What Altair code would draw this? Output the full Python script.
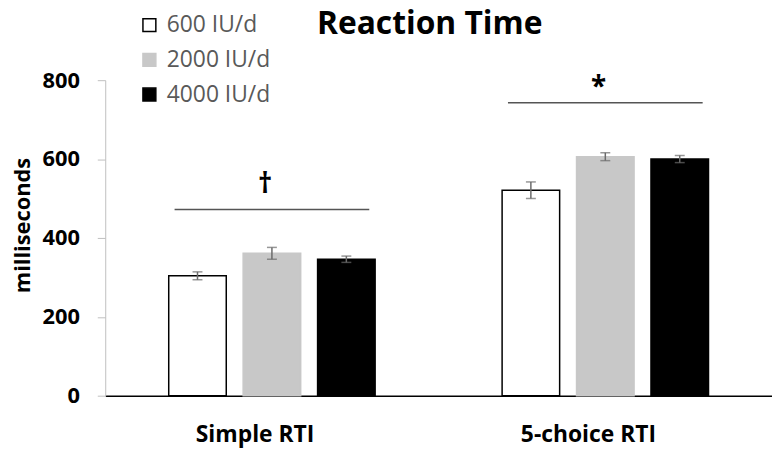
import altair as alt
import pandas as pd

title_text = ["Reaction Time"]
categories = ["Simple RTI", "5-choice RTI"]
doses = ["600 IU/d", "2000 IU/d", "4000 IU/d"]
means_simple = [304, 361, 346]
sem_simple = [10, 15, 8]
means_choice = [521, 606, 600]
sem_choice = [21, 10, 9]
bracket_y = [472, 743]
sig_symbols = ["†", "*"]
sig_y = [534, 780]
y_ticks = [0, 200, 400, 600, 800]

fills = ["white", "#c8c8c8", "black"]
strokes = ["black", "#c8c8c8", "black"]

rows = []
for cat, means, sems in [(categories[0], means_simple, sem_simple), (categories[1], means_choice, sem_choice)]:
    for d, m, s in zip(doses, means, sems):
        rows.append({"cat": cat, "dose": d, "mean": m, "lo": m - s, "hi": m + s})
df = pd.DataFrame(rows)
br = pd.DataFrame({"cat": categories, "by": bracket_y, "sym": sig_symbols, "sy": sig_y})
tdf = pd.DataFrame({"t": title_text})

FONT = "Open Sans"

xscale = alt.Scale(domain=categories, paddingInner=0, paddingOuter=0)
x_enc = alt.X("cat:N", sort=categories, title=None, scale=xscale)
xo_enc = alt.XOffset("dose:N", sort=doses,
                     scale=alt.Scale(domain=doses, paddingInner=0.227, paddingOuter=0.853))
yscale = alt.Scale(domain=[0, 800], nice=False)
yaxis = alt.Axis(values=y_ticks, title="milliseconds")

def Y(field):
    return alt.Y(field, type="quantitative", scale=yscale, axis=yaxis, title="milliseconds")

leg = alt.Legend(title=None, orient="none", legendX=33, legendY=-67, symbolType="square",
                 symbolSize=169, symbolStrokeWidth=1.5, labelFontSize=23, labelColor="#595959",
                 labelFont=FONT, rowPadding=11, labelOffset=6, padding=0)

bars = alt.Chart(df).mark_bar(strokeWidth=1.5).encode(
    x=x_enc, xOffset=xo_enc, y=Y("mean"),
    fill=alt.Fill("dose:N", sort=doses, scale=alt.Scale(domain=doses, range=fills), legend=leg),
    stroke=alt.Stroke("dose:N", sort=doses, scale=alt.Scale(domain=doses, range=strokes), legend=leg),
)

ecol = "#6b6b6b"
err = alt.Chart(df).mark_rule(color=ecol, strokeWidth=1.5).encode(
    x=x_enc, xOffset=xo_enc, y=Y("lo"), y2="hi")
cap_lo = alt.Chart(df).mark_tick(color=ecol, thickness=1.5, size=10).encode(
    x=x_enc, xOffset=xo_enc, y=Y("lo"))
cap_hi = alt.Chart(df).mark_tick(color=ecol, thickness=1.5, size=10).encode(
    x=x_enc, xOffset=xo_enc, y=Y("hi"))

brackets = alt.Chart(br).mark_rule(color="#555555", strokeWidth=1.5).encode(
    x=alt.X("cat:N", sort=categories, title=None, bandPosition=0.208, scale=xscale),
    x2=alt.X2("cat:N", bandPosition=0.792),
    y=Y("by"),
)
sig = alt.Chart(br).mark_text(font=FONT, fontSize=28, fontWeight="bold", baseline="middle", color="black").encode(
    x=alt.X("cat:N", sort=categories, title=None, bandPosition=0.48, scale=xscale),
    y=Y("sy"), text="sym:N",
)

title = alt.Chart(tdf).mark_text(font=FONT, fontSize=32, fontWeight="bold", color="black",
                                 align="center", baseline="alphabetic").encode(
    text="t:N", x=alt.value(327), y=alt.value(-47))

chart = alt.layer(bars, err, cap_lo, cap_hi, brackets, sig, title).properties(
    width=672, height=318,
    autosize=alt.AutoSizeParams(type="none"),
    padding={"left": 98, "top": 71, "right": 0, "bottom": 55},
).configure_view(stroke=None).configure_axisX(
    domainColor="black", domainWidth=1.5, ticks=False, tickSize=0, labelAngle=0,
    labelFont=FONT, labelFontSize=23, labelFontWeight="bold", labelColor="black",
    labelPadding=28, labelOffset=-17, grid=False,
).configure_axisY(
    domainColor="#bfbfbf", tickColor="#bfbfbf", tickSize=8, grid=False,
    labelFont=FONT, labelFontSize=22, labelFontWeight="bold", labelColor="black", labelPadding=18,
    titleFont=FONT, titleFontSize=22, titleFontWeight="bold", titleColor="black",
    titleX=-83, titleY=146, titleAlign="center", titleBaseline="middle", titleAngle=-90,
)

chart.save("out.html", embed_options={"renderer": "svg", "actions": False})
